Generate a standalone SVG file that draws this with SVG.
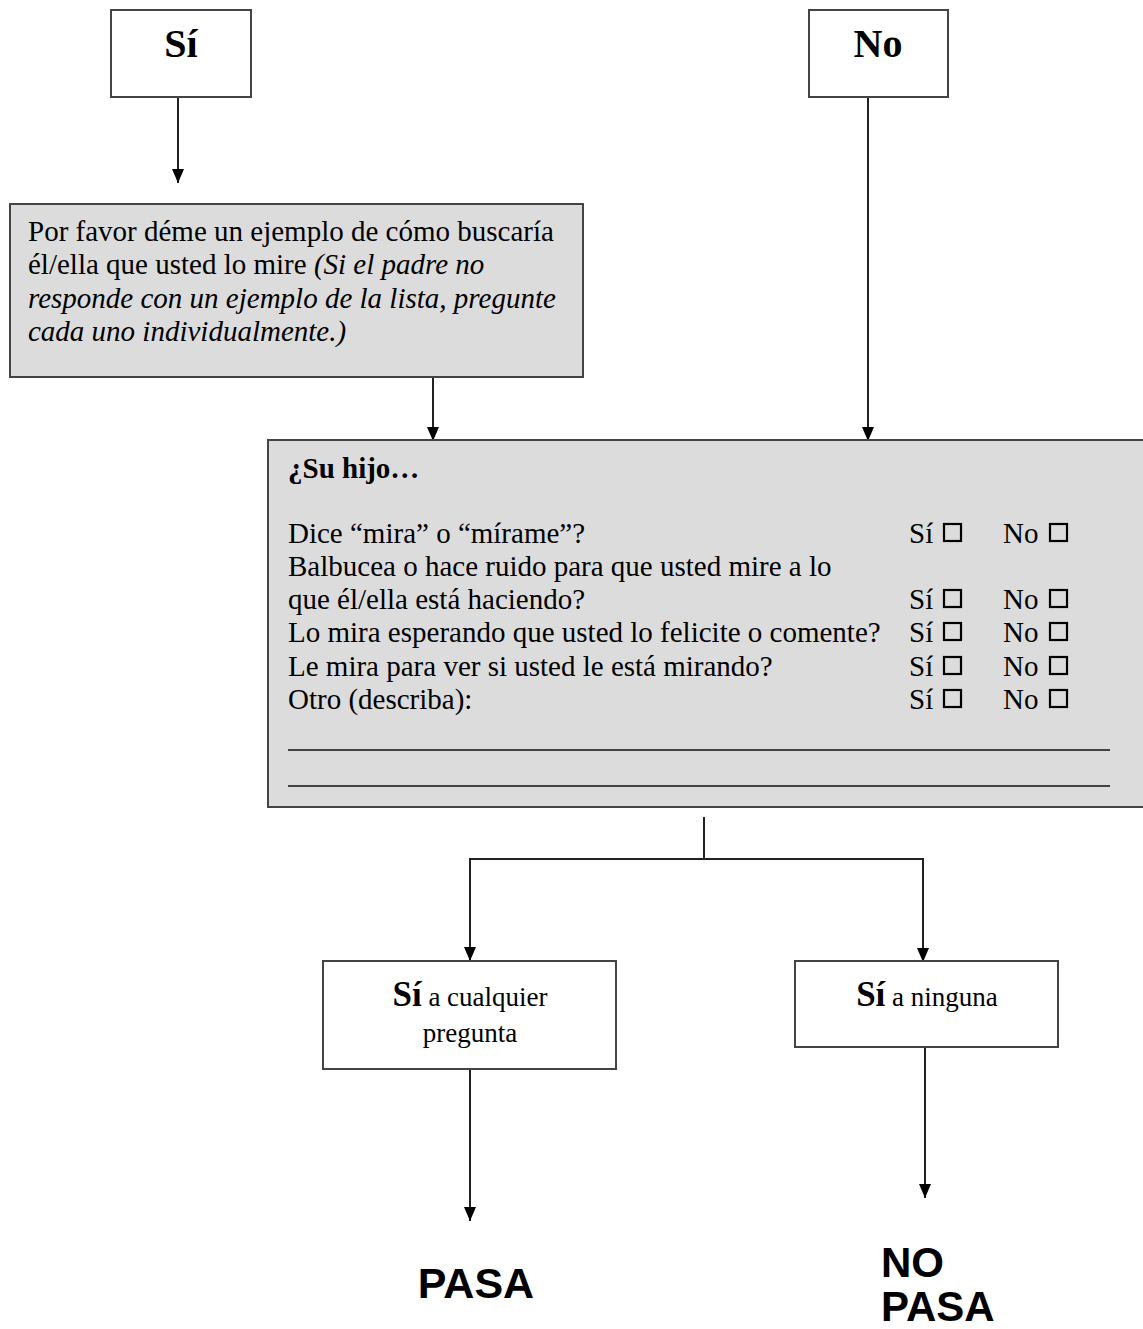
<svg xmlns="http://www.w3.org/2000/svg" width="1143" height="1329" viewBox="0 0 1143 1329">
  <defs>
    <!-- filled triangular arrowhead, drawn along +x so orient="auto" follows the line -->
    <marker id="arrow" viewBox="0 0 14 12" refX="14" refY="6" markerWidth="14" markerHeight="12" markerUnits="userSpaceOnUse" orient="auto">
      <path d="M0,0 L14,6 L0,12 Z" fill="#000"/>
    </marker>
  </defs>
  <style>
    .box { fill: #fff; stroke: #444; stroke-width: 2; }
    .gray { fill: #dcdcdc; stroke: #444; stroke-width: 2; }
    .conn { fill: none; stroke: #222; stroke-width: 2; }
    .serif { font-family: "Liberation Serif", "Times New Roman", serif; fill: #000; }
    .sans { font-family: "Liberation Sans", Arial, sans-serif; fill: #000; font-weight: bold; }
    .chk { fill: none; stroke: #000; stroke-width: 2.2; }
    .rule { stroke: #111; stroke-width: 1.6; }
  </style>
  <rect width="1143" height="1329" fill="#fff"/>

  <g id="connectors">
    <line class="conn" x1="178" y1="97" x2="178" y2="183" marker-end="url(#arrow)"/>
    <line class="conn" x1="868" y1="97" x2="868" y2="441" marker-end="url(#arrow)"/>
    <line class="conn" x1="433" y1="377" x2="433" y2="441" marker-end="url(#arrow)"/>
    <polyline class="conn" points="704,817 704,859 470,859 470,961" marker-end="url(#arrow)"/>
    <polyline class="conn" points="704,859 923,859 923,962" marker-end="url(#arrow)"/>
    <line class="conn" x1="470" y1="1069" x2="470" y2="1221" marker-end="url(#arrow)"/>
    <line class="conn" x1="925" y1="1047" x2="925" y2="1198" marker-end="url(#arrow)"/>
  </g>

  <g id="node-si">
    <rect class="box" x="111" y="10" width="140" height="87"/>
    <text class="serif" x="181" y="57" font-size="40" font-weight="bold" text-anchor="middle">Sí</text>
  </g>

  <g id="node-no">
    <rect class="box" x="809" y="10" width="139" height="87"/>
    <text class="serif" x="878" y="57" font-size="40" font-weight="bold" text-anchor="middle">No</text>
  </g>

  <g id="node-ejemplo">
    <rect class="gray" x="10" y="204" width="573" height="173"/>
    <text class="serif" font-size="29">
      <tspan x="28" y="241">Por favor déme un ejemplo de cómo buscaría</tspan>
      <tspan x="28" y="274">él/ella que usted lo mire <tspan font-style="italic">(Si el padre no</tspan></tspan>
      <tspan x="28" y="308" font-style="italic">responde con un ejemplo de la lista, pregunte</tspan>
      <tspan x="28" y="341" font-style="italic">cada uno individualmente.)</tspan>
    </text>
  </g>

  <g id="node-preguntas">
    <rect class="gray" x="268" y="440" width="884" height="367"/>
    <text class="serif" x="288" y="478" font-size="29" font-weight="bold">¿Su hijo…</text>
    <text class="serif" font-size="29">
      <tspan x="288" y="543">Dice “mira” o “mírame”?</tspan>
      <tspan x="288" y="576">Balbucea o hace ruido para que usted mire a lo</tspan>
      <tspan x="288" y="609">que él/ella está haciendo?</tspan>
      <tspan x="288" y="642">Lo mira esperando que usted lo felicite o comente?</tspan>
      <tspan x="288" y="676">Le mira para ver si usted le está mirando?</tspan>
      <tspan x="288" y="709">Otro (describa):</tspan>
    </text>
    <g class="serif" font-size="29">
      <text x="909" y="543">Sí</text><text x="1003" y="543">No</text>
      <text x="909" y="609">Sí</text><text x="1003" y="609">No</text>
      <text x="909" y="642">Sí</text><text x="1003" y="642">No</text>
      <text x="909" y="676">Sí</text><text x="1003" y="676">No</text>
      <text x="909" y="709">Sí</text><text x="1003" y="709">No</text>
    </g>
    <g>
      <rect class="chk" x="944" y="524" width="17" height="17"/><rect class="chk" x="1050" y="524" width="17" height="17"/>
      <rect class="chk" x="944" y="590" width="17" height="17"/><rect class="chk" x="1050" y="590" width="17" height="17"/>
      <rect class="chk" x="944" y="623" width="17" height="17"/><rect class="chk" x="1050" y="623" width="17" height="17"/>
      <rect class="chk" x="944" y="657" width="17" height="17"/><rect class="chk" x="1050" y="657" width="17" height="17"/>
      <rect class="chk" x="944" y="690" width="17" height="17"/><rect class="chk" x="1050" y="690" width="17" height="17"/>
    </g>
    <line class="rule" x1="288" y1="750" x2="1110" y2="750"/>
    <line class="rule" x1="288" y1="786" x2="1110" y2="786"/>
  </g>

  <g id="node-si-cualquier">
    <rect class="box" x="323" y="961" width="293" height="108"/>
    <text class="serif" x="470" y="1006" text-anchor="middle" font-size="27"><tspan font-size="35" font-weight="bold">Sí</tspan> a cualquier</text>
    <text class="serif" x="470" y="1042" text-anchor="middle" font-size="27">pregunta</text>
  </g>

  <g id="node-si-ninguna">
    <rect class="box" x="795" y="961" width="263" height="86"/>
    <text class="serif" x="927" y="1006" text-anchor="middle" font-size="27"><tspan font-size="35" font-weight="bold">Sí</tspan> a ninguna</text>
  </g>

  <g id="node-pasa">
    <text class="sans" x="476" y="1298" font-size="43" text-anchor="middle">PASA</text>
  </g>

  <g id="node-no-pasa">
    <text class="sans" x="881" y="1277" font-size="42">NO</text>
    <text class="sans" x="881" y="1321" font-size="42">PASA</text>
  </g>
</svg>
